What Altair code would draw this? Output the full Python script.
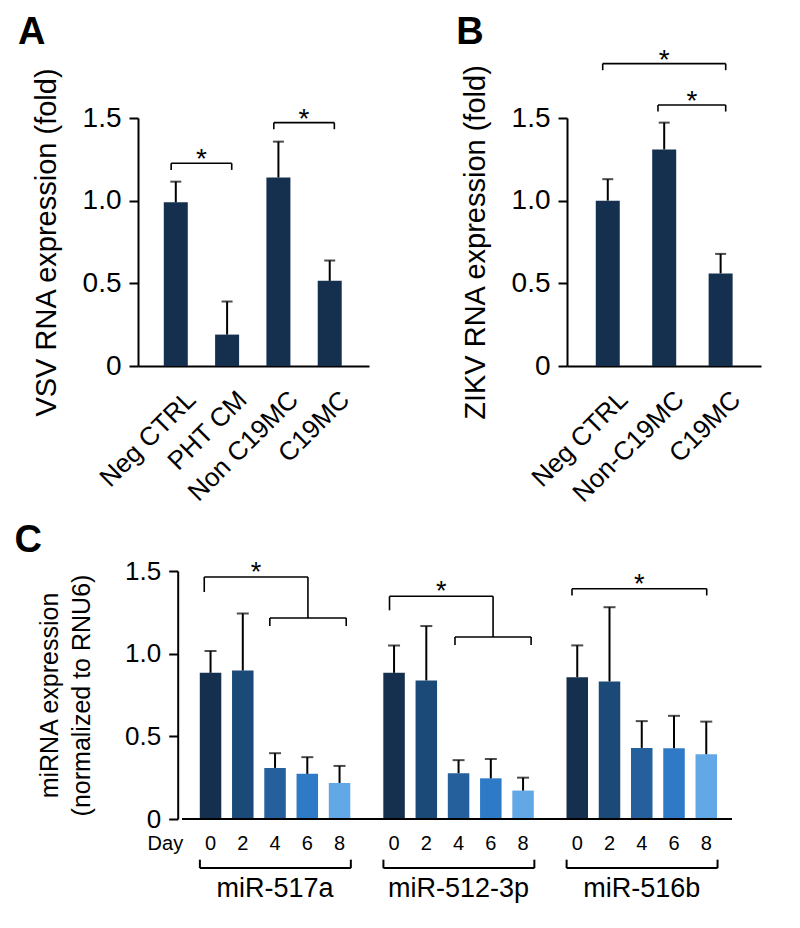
import altair as alt
import pandas as pd

FONT = "Liberation Sans"
NAVY = "#15304f"
BLACK = "#000000"

# ---------------- data ----------------
# Panel A: VSV
a_labels = ["Neg CTRL", "PHT CM", "Non C19MC", "C19MC"]
a_mean = [0.99, 0.19, 1.14, 0.515]
a_upper = [1.115, 0.39, 1.357, 0.638]

# Panel B: ZIKV
b_labels = ["Neg CTRL", "Non-C19MC", "C19MC"]
b_mean = [1.0, 1.31, 0.56]
b_upper = [1.13, 1.472, 0.678]

# Panel C: miRNA time course
c_groups = ["miR-517a", "miR-512-3p", "miR-516b"]
c_days = ["0", "2", "4", "6", "8"]
c_mean_517a = [0.884, 0.898, 0.309, 0.273, 0.218]
c_upper_517a = [1.016, 1.243, 0.398, 0.374, 0.321]
c_mean_512 = [0.884, 0.838, 0.277, 0.246, 0.172]
c_upper_512 = [1.05, 1.167, 0.356, 0.363, 0.25]
c_mean_516b = [0.858, 0.832, 0.43, 0.428, 0.392]
c_upper_516b = [1.05, 1.281, 0.592, 0.624, 0.589]
c_colors = ["#15304f", "#1b4a78", "#255f9c", "#2f7ac6", "#63a8e6"]

# layout positions (category slots on a continuous axis)
a_pos = [0, 1, 2, 3]
b_pos = [0, 1, 2]
c_group_start = [0, 5.69, 11.37]

# significance brackets: (x_left, x_right, y_level)
a_brackets = [(-0.09, 1.09, 1.226), (1.91, 3.09, 1.472)]
b_brackets = [(-0.09, 2.09, 1.829), (0.89, 2.09, 1.579)]
# nested brackets in C: (x_left, x_join, y_top, drop_left, x3, x4, y_low)
c_nested = [(-0.195, 3.02, 1.464, 0.091, 1.838, 4.207, 1.216),
            (5.549, 8.76, 1.347, 0.085, 7.579, 9.939, 1.101)]
c_simple = [(11.207, 15.384, 1.393)]
DROP = 0.04

# domains of the continuous category axes
a_xdom = [-0.639, 3.668]
b_xdom = [-0.634, 2.627]
c_xaxis_start = -0.884          # where panel C's y axis sits
c_xdom = [-2.094, 16.168]
C_AXIS_SHIFT = -39.7            # px: C's y axis moved into its (wider) plot

# panel letters (x, y in data units of their own panel)
a_letter = (-3.073, 1.946)
b_letter = (-2.686, 1.946)
c_letter = (-6.079, 1.617)


def bracket_segments(brackets, drop=DROP):
    rows = []
    for x1, x2, y in brackets:
        rows.append(dict(x=x1, x2=x2, y=y, y2=y))
        rows.append(dict(x=x1, x2=x1, y=y, y2=y - drop))
        rows.append(dict(x=x2, x2=x2, y=y, y2=y - drop))
    return rows


def star_rows(brackets):
    return [dict(x=(b[0] + b[1]) / 2, y=b[2]) for b in brackets]


Y_VALUES = [0, 0.5, 1.0, 1.5]
Y_EXPR = "datum.value == 0 ? '0' : format(datum.value, '.1f')"


def y_axis(title, title_x, size, title_size, line_height=None, offset=None):
    kw = dict(values=Y_VALUES, labelExpr=Y_EXPR, tickSize=9, tickWidth=2,
              tickColor=BLACK, domainColor=BLACK, domainWidth=2,
              labelFontSize=size, labelPadding=8, labelFont=FONT,
              labelColor=BLACK, grid=False, title=title, titleFont=FONT,
              titleFontSize=title_size, titleFontWeight="normal",
              titleColor=BLACK, titleX=title_x, titleY=124,
              titleBaseline="alphabetic", titleAngle=270)
    if line_height:
        kw["titleLineHeight"] = line_height
    if offset is not None:
        kw["offset"] = offset
    return alt.Axis(**kw)


def letter_layer(letter, pos, X, Y):
    df = pd.DataFrame([dict(x=pos[0], y=pos[1], t=letter)])
    return alt.Chart(df).mark_text(
        fontSize=38, fontWeight="bold", font=FONT, align="left",
        baseline="alphabetic", color=BLACK).encode(x=X("x"), y=Y("y"), text="t:N")


def bar_panel(labels, pos, mean, upper, brackets, xdom, width, ytitle,
              letter, letter_pos):
    df = pd.DataFrame({"pos": pos, "mean": mean, "upper": upper})
    label_expr = "[" + ",".join("'%s'" % l for l in labels) + "][datum.value]"
    xaxis = alt.Axis(values=pos, labelExpr=label_expr, ticks=False,
                     labelAngle=315, labelAlign="right", labelBaseline="top",
                     labelPadding=20, labelOffset=6, labelFontSize=26,
                     labelFont=FONT, labelColor=BLACK, domainColor=BLACK,
                     domainWidth=2, grid=False, title=None,
                     labelOverlap=False, labelFlush=False, labelBound=False)
    xs = alt.Scale(domain=xdom, nice=False, zero=False)
    ys = alt.Scale(domain=[0, 1.5], nice=False)
    yax = y_axis(ytitle, -82.5, 28, 29)

    def X(f):
        return alt.X(f, type="quantitative", scale=xs, axis=xaxis)

    def Y(f):
        return alt.Y(f, type="quantitative", scale=ys, axis=yax)

    bars = alt.Chart(df).mark_bar(size=24, color=NAVY).encode(x=X("pos"), y=Y("mean"))
    err = alt.Chart(df).mark_rule(strokeWidth=2, color=BLACK).encode(
        x=X("pos"), y=Y("mean"), y2="upper")
    cap = alt.Chart(df).mark_tick(orient="horizontal", size=11, thickness=2,
                                  color=BLACK).encode(x=X("pos"), y=Y("upper"))
    seg = alt.Chart(pd.DataFrame(bracket_segments(brackets))).mark_rule(
        strokeWidth=1.6, color=BLACK).encode(x=X("x"), x2="x2", y=Y("y"), y2="y2")
    stars = alt.Chart(pd.DataFrame(star_rows(brackets))).mark_text(
        text="*", fontSize=28, font=FONT, dy=5, baseline="alphabetic",
        color=BLACK).encode(x=X("x"), y=Y("y"))
    return alt.layer(bars, err, cap, seg, stars,
                     letter_layer(letter, letter_pos, X, Y)).properties(
        width=width, height=248)


chartA = bar_panel(a_labels, a_pos, a_mean, a_upper, a_brackets, a_xdom, 231,
                   "VSV RNA expression (fold)", "A", a_letter)
chartB = bar_panel(b_labels, b_pos, b_mean, b_upper, b_brackets, b_xdom, 194,
                   "ZIKV RNA expression (fold)", "B", b_letter)

# ---------------- panel C ----------------
c_means = [c_mean_517a, c_mean_512, c_mean_516b]
c_uppers = [c_upper_517a, c_upper_512, c_upper_516b]
rows = []
for g, name in enumerate(c_groups):
    for i, d in enumerate(c_days):
        rows.append(dict(pos=c_group_start[g] + i, group=name, day=d,
                         mean=c_means[g][i], upper=c_uppers[g][i]))
cdf = pd.DataFrame(rows)

cseg = []
for x1, xj, yt, dl, x3, x4, yl in c_nested:
    cseg.append(dict(x=x1, x2=xj, y=yt, y2=yt))
    cseg.append(dict(x=x1, x2=x1, y=yt, y2=yt - dl))
    cseg.append(dict(x=xj, x2=xj, y=yt, y2=yl))
    cseg += bracket_segments([(x3, x4, yl)], 0.049)
cseg += bracket_segments(c_simple, 0.041)
cstars = [dict(x=(b[0] + b[1]) / 2, y=b[2]) for b in c_nested] + star_rows(c_simple)

# group underline brackets below the axis
under = []
for s in c_group_start:
    under.append(dict(x=s - 0.33, x2=s + 4.35, y=-0.297, y2=-0.297))
    under.append(dict(x=s - 0.33, x2=s - 0.33, y=-0.297, y2=-0.246))
    under.append(dict(x=s + 4.35, x2=s + 4.35, y=-0.297, y2=-0.246))
baseline = [dict(x=c_xaxis_start, x2=c_xdom[1], y=0, y2=0)]

day_text = [dict(x=r["pos"], y=-0.151, t=r["day"]) for r in rows] + \
           [dict(x=-1.4, y=-0.151, t="Day")]
group_text = [dict(x=s + 2, y=-0.424, t=n) for s, n in zip(c_group_start, c_groups)]

cxs = alt.Scale(domain=c_xdom, nice=False, zero=False)
cys = alt.Scale(domain=[0, 1.5], nice=False)
cxaxis = alt.Axis(labels=False, ticks=False, domain=False, grid=False, title=None)
cyaxis = y_axis(["miRNA expression", "(normalized to RNU6)"], -120, 26, 25, 32,
                offset=C_AXIS_SHIFT)


def CX(f):
    return alt.X(f, type="quantitative", scale=cxs, axis=cxaxis)


def CY(f):
    return alt.Y(f, type="quantitative", scale=cys, axis=cyaxis)


cbars = alt.Chart(cdf).mark_bar(size=21.5).encode(
    x=CX("pos"), y=CY("mean"),
    color=alt.Color("day:N", scale=alt.Scale(domain=c_days, range=c_colors),
                    legend=None))
cerr = alt.Chart(cdf).mark_rule(strokeWidth=2, color=BLACK).encode(
    x=CX("pos"), y=CY("mean"), y2="upper")
ccap = alt.Chart(cdf).mark_tick(orient="horizontal", size=12, thickness=2,
                                color=BLACK).encode(x=CX("pos"), y=CY("upper"))
csig = alt.Chart(pd.DataFrame(cseg)).mark_rule(strokeWidth=1.6, color=BLACK).encode(
    x=CX("x"), x2="x2", y=CY("y"), y2="y2")
cstar = alt.Chart(pd.DataFrame(cstars)).mark_text(
    text="*", fontSize=27, font=FONT, dy=4, baseline="alphabetic",
    color=BLACK).encode(x=CX("x"), y=CY("y"))
cunder = alt.Chart(pd.DataFrame(under)).mark_rule(strokeWidth=2, color=BLACK).encode(
    x=CX("x"), x2="x2", y=CY("y"), y2="y2")
cbase = alt.Chart(pd.DataFrame(baseline)).mark_rule(strokeWidth=2, color=BLACK).encode(
    x=CX("x"), x2="x2", y=CY("y"), y2="y2")
cdays = alt.Chart(pd.DataFrame(day_text)).mark_text(
    fontSize=20, font=FONT, baseline="middle", color=BLACK).encode(
    x=CX("x"), y=CY("y"), text="t:N")
cgroups = alt.Chart(pd.DataFrame(group_text)).mark_text(
    fontSize=27, font=FONT, baseline="middle", color=BLACK).encode(
    x=CX("x"), y=CY("y"), text="t:N")

chartC = alt.layer(cbars, cerr, ccap, csig, cstar, cunder, cbase, cdays, cgroups,
                   letter_layer("C", c_letter, CX, CY)).properties(
    width=599, height=248)

top = alt.hconcat(chartA, chartB, spacing=87)
chart = alt.vconcat(top, chartC, spacing=14).properties(
    padding={"left": 6, "top": 6, "right": 4, "bottom": 4}
).configure(font=FONT).configure_view(stroke=None)

chart.save("out.html", embed_options={"renderer": "svg", "actions": False})
